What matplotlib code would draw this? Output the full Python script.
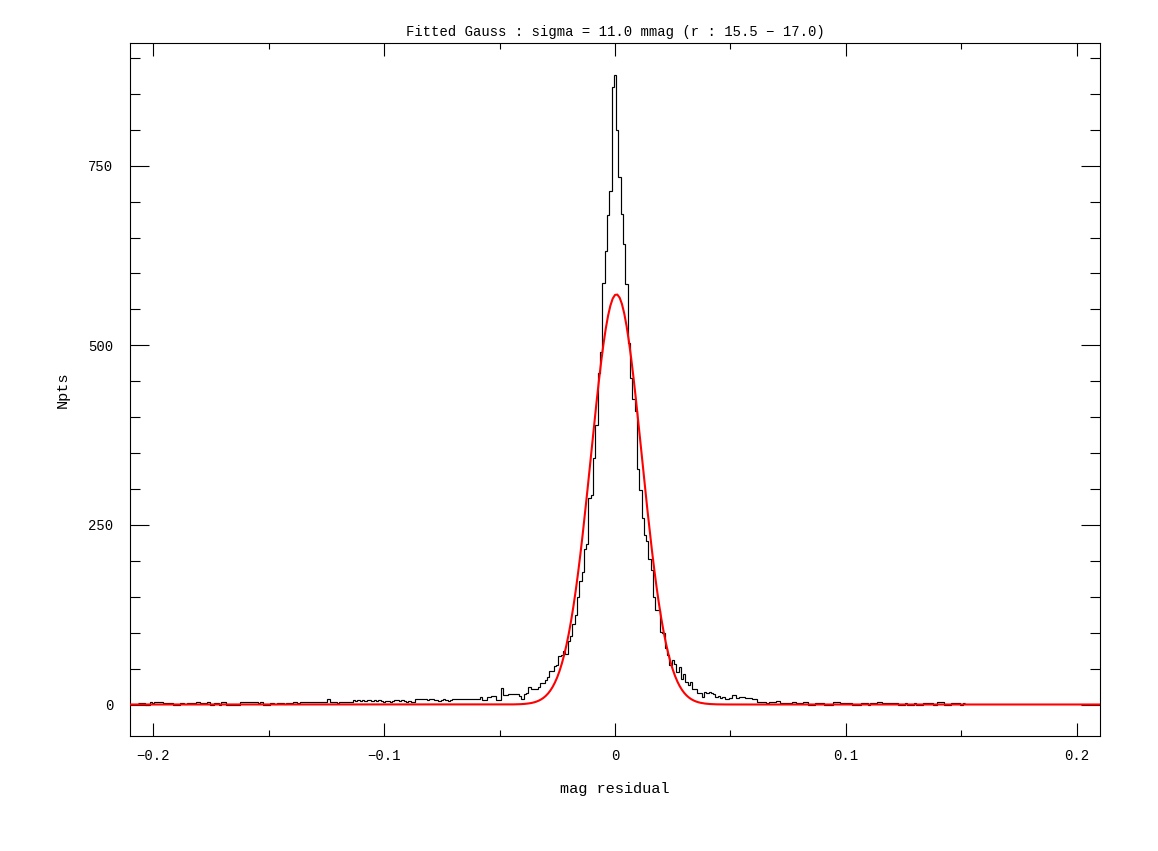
import numpy as np
import matplotlib
matplotlib.use('Agg')
import matplotlib.pyplot as plt
from matplotlib.ticker import MultipleLocator, FuncFormatter

plt.rcParams['font.family'] = ['Liberation Mono', 'DejaVu Sans']

# histogram of mag residuals, bin width 0.001, first bin centred at -0.206
bin_w = 0.001
x_first = -0.206

# far left tail, -0.206 .. -0.044
tail_left = [2, 2, 2, 0, 0, 3, 2, 3, 3, 3, 3, 2, 2, 2, 2, 0, 0, 0,
             2, 2, 1, 2, 2, 2, 2, 3, 3, 2, 2, 2, 3, 0, 0, 2, 2, 0, 4, 4,
             0, 0, 0, 0, 0, 0, 3, 3, 3, 4, 4, 4, 4, 3, 2, 3, 0, 0, 0,
             2, 2, 1, 2, 2, 2, 1, 2, 2, 2, 3, 3, 2, 3, 3, 4, 3,
             4, 4, 3, 4, 4, 3, 3, 3, 7, 3, 4, 3, 2, 4, 3, 3, 4, 3, 3,
             6, 5, 6, 5, 6, 5, 6, 6, 5, 6, 5, 6, 5, 4, 5, 5, 4, 5,
             6, 6, 5, 6, 5, 4, 5, 3, 4, 8, 8, 8, 7, 7, 6, 7, 7, 6,
             6, 5, 6, 8, 6, 5, 6, 7, 7, 7, 8, 8, 8, 7, 7, 7, 7, 8, 8,
             10, 6, 6, 10, 10, 12, 12, 6, 6, 23, 13, 13, 14, 14, 15]

# core, -0.043 .. 0.049
core = [15, 15, 12, 8, 14, 16, 25, 21, 21, 21,
        24, 30, 30, 34, 38, 46, 46, 53, 55, 68,
        69, 75, 70, 88, 95, 112, 125, 149, 172, 185,
        217, 224, 288, 291, 343, 389, 462, 491, 587, 631,
        682, 715, 859, 877, 800, 735, 683, 641, 586, 503,
        455, 425, 408, 328, 299, 260, 236, 227, 203, 187,
        150, 132, 132, 101, 100, 78, 69, 55, 62, 57,
        45, 52, 35, 42, 32, 27, 32, 22, 22, 16,
        16, 11, 18, 16, 17, 16, 15, 11, 12, 9,
        10, 8, 8]

# right tail, 0.050 .. 0.151
tail_right = [9, 13, 13, 9, 10, 11, 11, 9, 9, 9,
              7, 7, 3, 4, 3, 3, 2, 3, 3, 3,
              5, 5, 2, 2, 2, 2, 2, 3, 3, 2,
              2, 2, 4, 4, 0, 0, 0, 2, 2, 2,
              2, 0, 0, 0, 0, 3, 3, 4, 2, 2,
              2, 2, 2, 0, 0, 0, 0, 2, 2, 2,
              0, 2, 2, 2, 3, 3, 2, 2, 2, 2,
              2, 2, 2, 0, 0, 0, 2, 0, 0, 0,
              2, 0, 0, 0, 2, 2, 2, 2, 0, 0,
              3, 3, 3, 0, 0, 0, 2, 2, 2, 2,
              0, 2]

counts = np.array(tail_left + core + tail_right, dtype=float)
edges = x_first - bin_w / 2 + bin_w * np.arange(len(counts) + 1)

# fitted gaussian
g_amp = 571.0
g_mu = 0.0006
g_sigma = 0.011
r_lo, r_hi = 15.5, 17.0

xlo, xhi = -0.21, 0.21
gx = np.arange(xlo, xhi + bin_w / 2, bin_w)
gy = g_amp * np.exp(-0.5 * ((gx - g_mu) / g_sigma) ** 2)

W, H = 1158, 851
fig = plt.figure(figsize=(W / 100, H / 100), dpi=100)
ax = fig.add_axes([130 / W, 1 - 736 / H, 970 / W, 693 / H])

ax.stairs(counts, edges, color='black', lw=0.85, baseline=None, zorder=2)
ax.plot(gx, gy, color='red', lw=1.5, zorder=3)

ymax = counts.max()
ax.set_xlim(xlo, xhi)
ax.set_ylim(-0.05 * ymax, 1.05 * ymax)

ax.xaxis.set_major_locator(MultipleLocator(0.1))
ax.xaxis.set_minor_locator(MultipleLocator(0.05))
ax.yaxis.set_major_locator(MultipleLocator(250))
ax.yaxis.set_minor_locator(MultipleLocator(50))

def fmt(v, pos):
    if abs(v) < 1e-9:
        return '0'
    return ('%g' % v).replace('-', '\u2212')

ax.xaxis.set_major_formatter(FuncFormatter(fmt))
ax.yaxis.set_major_formatter(FuncFormatter(fmt))

ax.tick_params(which='both', direction='in', top=True, right=True,
               width=0.8, colors='black', labelsize=10)
ax.tick_params(axis='x', which='major', length=9.4, pad=9)
ax.tick_params(axis='x', which='minor', length=4.5)
ax.tick_params(axis='y', which='major', length=13.5, pad=12)
ax.tick_params(axis='y', which='minor', length=7.2)
for s in ax.spines.values():
    s.set_linewidth(0.8)

ax.set_xlabel('mag residual', fontsize=11, labelpad=14)
ax.set_ylabel('Npts', fontsize=11, labelpad=13)
ax.set_title('Fitted Gauss : sigma = %.1f mmag (r : %.1f \u2212 %.1f)'
             % (g_sigma * 1000, r_lo, r_hi), fontsize=10, pad=5)

fig.savefig('out.png', dpi=100)
